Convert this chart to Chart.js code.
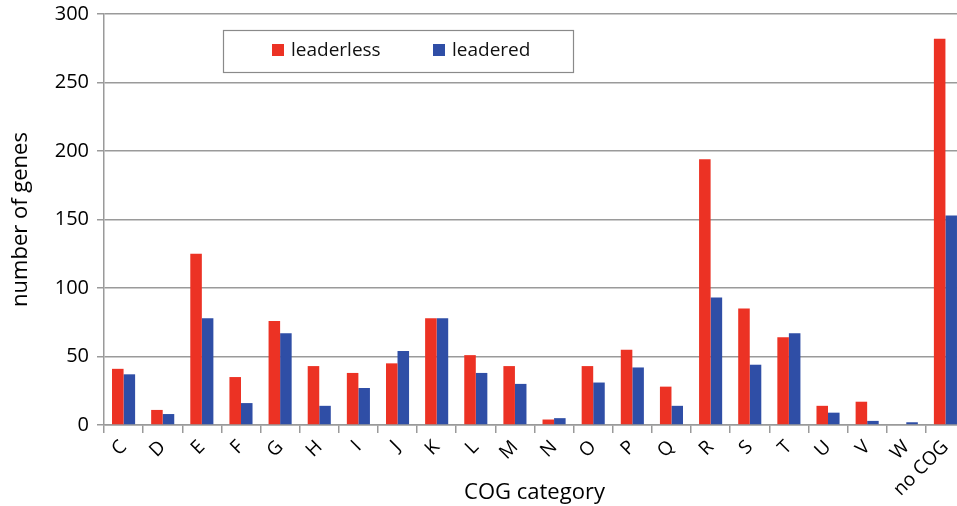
<!DOCTYPE html>
<html>
<head>
<meta charset="utf-8">
<script src="https://cdn.jsdelivr.net/npm/chart.js@4/dist/chart.umd.min.js"></script>
<style>
  html, body { margin: 0; padding: 0; background: #fff; overflow: hidden; }
  #wrap { position: relative; top: -6px; width: 965px; height: 512px; }
</style>
</head>
<body>
<div id="wrap"><canvas id="cog"></canvas></div>
<script>
const categories = ['C','D','E','F','G','H','I','J','K','L','M','N','O','P','Q','R','S','T','U','V','W','no COG'];
const leaderless = [41, 11, 125, 35, 76, 43, 38, 45, 78, 51, 43, 4, 43, 55, 28, 194, 85, 64, 14, 17, 0, 282];
const leadered   = [37, 8, 78, 16, 67, 14, 27, 54, 78, 38, 30, 5, 31, 42, 14, 93, 44, 67, 9, 3, 2, 153];
const yTicks = [0, 50, 100, 150, 200, 250, 300];

const RED = 'rgb(236,50,36)';
const BLUE = 'rgb(47,78,166)';
const GRID = '#9a9a9a';
const FONT = '"Open Sans", Lato, sans-serif';

// legend drawn as a boxed strip inside the plot area
const boxLegend = {
  id: 'boxLegend',
  afterDraw(chart) {
    const c = chart.ctx;
    const x = 223, y = 36, w = 350, h = 42;
    c.save();
    c.fillStyle = '#fff';
    c.fillRect(x, y, w, h);
    c.strokeStyle = '#8a8a8a';
    c.lineWidth = 1.2;
    c.strokeRect(x + 0.5, y + 0.5, w, h);
    c.font = '19px ' + FONT;
    c.textBaseline = 'middle';
    const items = [[272, 0], [433, 1]];
    items.forEach(([ix, di]) => {
      const ds = chart.data.datasets[di];
      c.fillStyle = ds.backgroundColor;
      c.fillRect(ix, y + 14, 12, 12);
      c.fillStyle = '#111';
      c.fillText(ds.label, ix + 19, y + 21);
    });
    c.restore();
  }
};

new Chart(document.getElementById('cog'), {
  type: 'bar',
  data: {
    labels: categories,
    datasets: [
      { label: 'leaderless', data: leaderless, backgroundColor: RED },
      { label: 'leadered', data: leadered, backgroundColor: BLUE }
    ]
  },
  options: {
    responsive: true,
    maintainAspectRatio: false,
    animation: false,
    datasets: { bar: { categoryPercentage: 0.59, barPercentage: 1.0 } },
    layout: { padding: { top: 4, right: 0, left: 8, bottom: 0 } },
    plugins: { legend: { display: false }, tooltip: { enabled: false } },
    scales: {
      x: {
        grid: { drawOnChartArea: false, drawTicks: true, tickLength: 8, color: GRID, lineWidth: 1.5 },
        border: { color: GRID, width: 1.5 },
        ticks: { color: '#000', font: { family: FONT, size: 19 }, minRotation: 45, maxRotation: 45, padding: 3 },
        title: { display: true, text: 'COG category', color: '#000', font: { family: FONT, size: 22 }, padding: { top: 0, bottom: 0 } },
        afterFit(s) { s.height = 81; }
      },
      y: {
        min: 0, max: 300,
        afterBuildTicks(s) { s.ticks = yTicks.map(v => ({ value: v })); },
        grid: { color: GRID, lineWidth: 1.5, tickLength: 7 },
        border: { color: GRID, width: 1.5 },
        ticks: { color: '#000', font: { family: FONT, size: 20 }, padding: 8 },
        title: { display: true, text: 'number of genes', color: '#000', font: { family: FONT, size: 22 }, padding: { top: 0, bottom: 2 } },
        afterFit(s) { s.width = 96; }
      }
    }
  },
  plugins: [boxLegend]
});
</script>
</body>
</html>
